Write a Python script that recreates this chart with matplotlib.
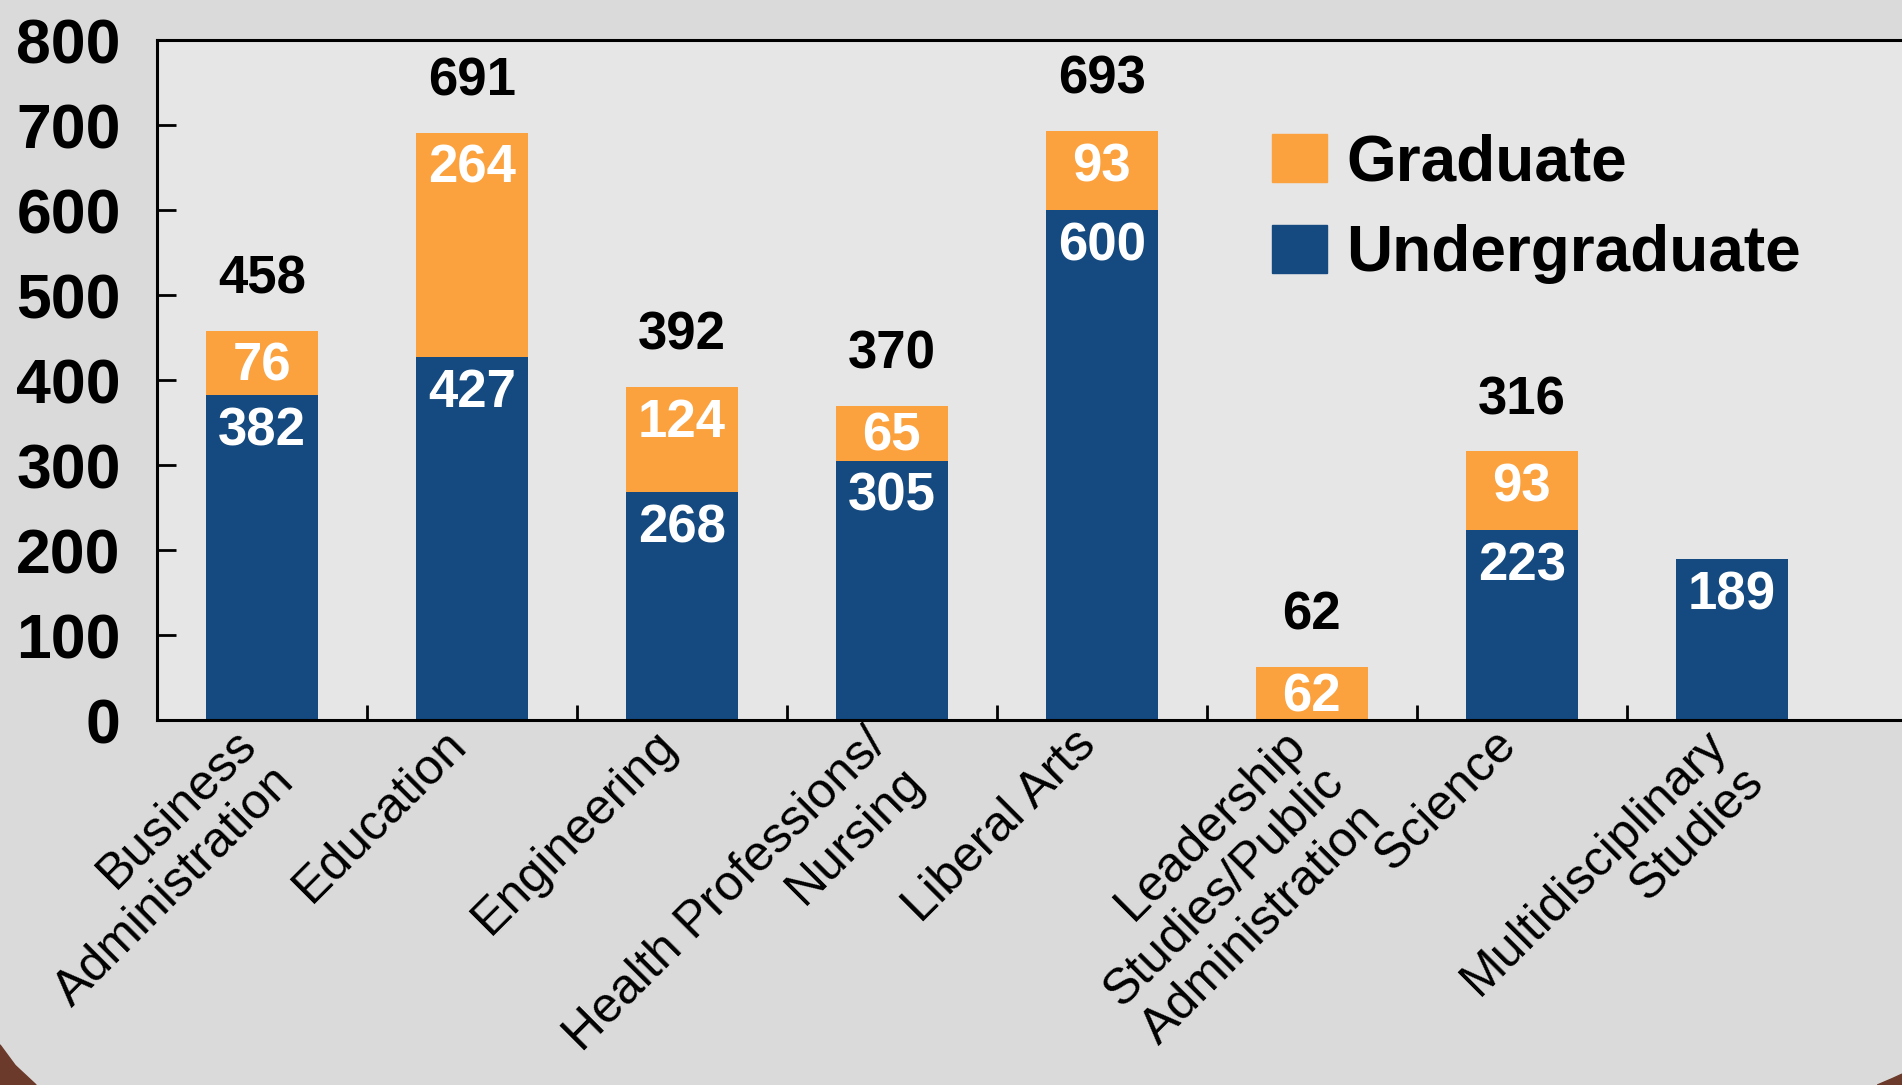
import matplotlib
matplotlib.use('Agg')
import matplotlib.pyplot as plt
import matplotlib.transforms as mtransforms
from matplotlib.patches import Polygon, Patch
import numpy as np

categories = ['Business\nAdministration', 'Education', 'Engineering',
              'Health Professions/\nNursing', 'Liberal Arts',
              'Leadership\nStudies/Public\nAdministration', 'Science',
              'Multidisciplinary\nStudies']
undergrad = [382, 427, 268, 305, 600, 0, 223, 189]
graduate = [76, 264, 124, 65, 93, 62, 93, 0]
totals = [458, 691, 392, 370, 693, 62, 316, None]

navy = '#144a7f'
orange = '#fba23e'

plt.rcParams['font.family'] = ['Liberation Sans', 'DejaVu Sans']

fig = plt.figure(figsize=(19.02, 10.85), dpi=100, facecolor='#dadada')
ax = fig.add_axes([0.0825, 0.3364, 0.9175, 0.6267])
ax.set_facecolor('#e6e6e6')

x = np.arange(len(categories))
w = 0.53
ax.bar(x, undergrad, width=w, color=navy, label='Undergraduate')
ax.bar(x, graduate, width=w, bottom=undergrad, color=orange, label='Graduate')

# labels inside the segments, near their tops
for i in range(len(categories)):
    if undergrad[i] > 0:
        ax.annotate(str(undergrad[i]), (x[i], undergrad[i]), xytext=(0, -26),
                    textcoords='offset points', ha='center', va='center',
                    color='white', fontsize=38, fontweight='bold')
    if graduate[i] > 0:
        top = undergrad[i] + graduate[i]
        off = -26 if graduate[i] > 70 else -22
        ax.annotate(str(graduate[i]), (x[i], top), xytext=(0, off),
                    textcoords='offset points', ha='center', va='center',
                    color='white', fontsize=38, fontweight='bold')
    if totals[i] is not None:
        ax.annotate(str(totals[i]), (x[i], totals[i]), xytext=(0, 37),
                    textcoords='offset points', ha='center', va='center',
                    color='black', fontsize=38, fontweight='bold')

ax.set_xlim(-0.5, 7.81)
ax.set_ylim(0, 800)
ax.set_yticks(range(0, 900, 100))
ax.tick_params(axis='y', direction='in', length=14, width=2, pad=26,
               labelsize=45)
for lab in ax.get_yticklabels():
    lab.set_fontweight('bold')

ax.set_xticks(x)
ax.set_xticklabels(categories, rotation=45, ha='right', va='top',
                   rotation_mode='anchor', multialignment='right',
                   fontsize=36)
ax.tick_params(axis='x', length=0, pad=3)
shift = mtransforms.ScaledTranslation(-0.29, 0.03, fig.dpi_scale_trans)
for lab in ax.get_xticklabels():
    lab.set_transform(lab.get_transform() + shift)
ax.set_xticks(np.arange(0.5, 7, 1), minor=True)
ax.tick_params(axis='x', which='minor', direction='in', length=11, width=2)

for s in ('top', 'left', 'bottom'):
    ax.spines[s].set_linewidth(2.2)
ax.spines['right'].set_visible(False)

handles = [Patch(color=orange), Patch(color=navy)]
fig.legend(handles, ['Graduate', 'Undergraduate'], loc='upper left',
           bbox_to_anchor=(0.669, 0.877), frameon=False,
           prop={'weight': 'bold', 'size': 46},
           handlelength=0.86, handleheight=0.77, labelspacing=0.48,
           handletextpad=0.3, borderpad=0, borderaxespad=0)

# brown slide corners
fig.patches.append(Polygon([(0, 0), (0.019, 0), (0.008, 0.018), (0, 0.037)],
                           closed=True, color='#6b3a2a', transform=fig.transFigure))
fig.patches.append(Polygon([(1, 0), (0.987, 0), (0.995, 0.006), (1, 0.01)],
                           closed=True, color='#6b3a2a', transform=fig.transFigure))

plt.savefig('out.png', dpi=100, facecolor=fig.get_facecolor())
